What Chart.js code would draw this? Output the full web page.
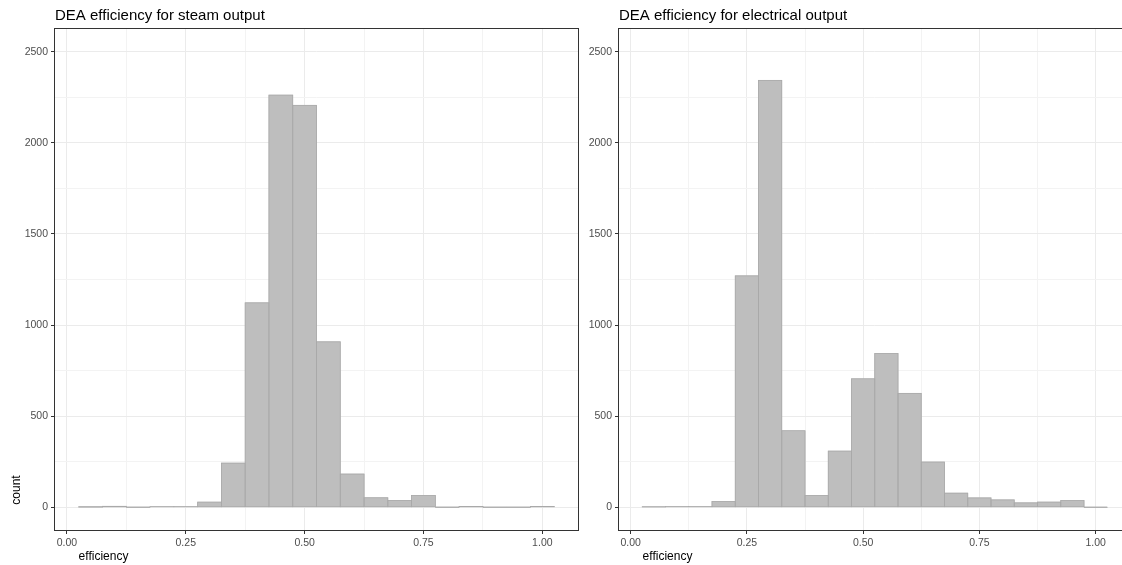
<!DOCTYPE html>
<html>
<head>
<meta charset="utf-8">
<script src="https://cdn.jsdelivr.net/npm/chart.js@4.4.1/dist/chart.umd.min.js"></script>
<style>
  html, body { margin: 0; padding: 0; background: #fff; overflow: hidden; width: 1122px; height: 565px; }
  canvas { position: absolute; top: 0; }
  #steamChart { left: 0; }
  #elecChart { left: 564px; }
</style>
</head>
<body>
<canvas id="steamChart" width="592" height="565"></canvas>
<canvas id="elecChart" width="580" height="565"></canvas>
<script>
// bin centres (binwidth 0.05)
const bins = [0.05, 0.10, 0.15, 0.20, 0.25, 0.30, 0.35, 0.40, 0.45, 0.50,
              0.55, 0.60, 0.65, 0.70, 0.75, 0.80, 0.85, 0.90, 0.95, 1.00];
const steamCounts = [1, 5, 0, 3, 3, 28, 242, 1122, 2262, 2206,
                     908, 182, 52, 37, 64, 0, 4, 0, 0, 4];
const elecCounts = [2, 3, 3, 31, 1270, 2343, 420, 64, 308, 705,
                    844, 625, 248, 77, 51, 40, 24, 28, 37, 0];

const xMajor = [0, 0.25, 0.5, 0.75, 1];
const xMinor = [0.125, 0.375, 0.625, 0.875];
const yMajor = [0, 500, 1000, 1500, 2000, 2500];
const yMinor = [250, 750, 1250, 1750, 2250];

const FONT = "'Liberation Sans', Arial, sans-serif";

// ggplot-like decorations: bar outlines, panel border, title, axis titles
const panelDecor = {
    id: 'panelDecor',
    afterDatasetsDraw(chart) {
        const ctx = chart.ctx;
        ctx.save();
        ctx.strokeStyle = '#a9a9a9';
        ctx.lineWidth = 0.8;
        chart.getDatasetMeta(0).data.forEach(bar => {
            const w = bar.width;
            ctx.strokeRect(bar.x - w / 2, bar.y, w, bar.base - bar.y);
        });
        ctx.restore();
    },
    afterDraw(chart, args, opts) {
        const ctx = chart.ctx;
        const a = chart.chartArea;
        ctx.save();
        ctx.strokeStyle = '#333333';
        ctx.lineWidth = 1;
        ctx.strokeRect(Math.round(a.left) - 0.5, Math.round(a.top) - 0.5,
                       Math.round(a.right - a.left) + 1, Math.round(a.bottom - a.top) + 1);

        ctx.fillStyle = '#000';
        ctx.font = '15px ' + FONT;
        ctx.textAlign = 'left';
        ctx.textBaseline = 'alphabetic';
        ctx.fillText(opts.title, a.left, 20);

        ctx.font = '12px ' + FONT;
        ctx.textAlign = 'center';
        ctx.textBaseline = 'middle';
        ctx.fillText('efficiency', a.left + 48.5, 556.5);

        if (opts.showCount) {
            ctx.translate(17, a.bottom - 40);
            ctx.rotate(-Math.PI / 2);
            ctx.fillText('count', 0, 0);
        }
        ctx.restore();
    }
};

function makeChart(id, counts, title, showCount, padRight) {
    return new Chart(document.getElementById(id), {
        type: 'bar',
        data: {
            datasets: [{
                data: bins.map((b, i) => ({ x: b, y: counts[i] })),
                backgroundColor: '#bebebe',
                borderWidth: 0,
                barPercentage: 1,
                categoryPercentage: 1
            }]
        },
        options: {
            responsive: false,
            animation: false,
            layout: { padding: { top: 29, right: padRight, left: 0, bottom: 0 } },
            plugins: {
                legend: { display: false },
                tooltip: { enabled: false },
                panelDecor: { title: title, showCount: showCount }
            },
            scales: {
                x: {
                    type: 'linear',
                    min: -0.025,
                    max: 1.075,
                    offset: false,
                    afterBuildTicks: s => {
                        s.ticks = xMajor.concat(xMinor).sort((p, q) => p - q).map(v => ({ value: v }));
                    },
                    afterFit: s => { s.height = 35; },
                    border: { display: false },
                    grid: {
                        offset: false,
                        color: c => xMajor.includes(c.tick.value) ? '#ebebeb' : '#f3f3f3',
                        lineWidth: 1,
                        tickLength: 4,
                        tickColor: c => xMajor.includes(c.tick.value) ? '#333333' : 'rgba(0,0,0,0)'
                    },
                    ticks: {
                        autoSkip: false,
                        maxRotation: 0,
                        padding: 3,
                        color: '#4d4d4d',
                        font: { family: FONT, size: 10.5 },
                        callback: v => xMajor.includes(v) ? v.toFixed(2) : ''
                    }
                },
                y: {
                    min: -125,
                    max: 2625,
                    afterBuildTicks: s => {
                        s.ticks = yMajor.concat(yMinor).sort((p, q) => p - q).map(v => ({ value: v }));
                    },
                    afterFit: s => { s.width = 55; },
                    border: { display: false },
                    grid: {
                        color: c => yMajor.includes(c.tick.value) ? '#ebebeb' : '#f3f3f3',
                        lineWidth: 1,
                        tickLength: 4,
                        tickColor: c => yMajor.includes(c.tick.value) ? '#333333' : 'rgba(0,0,0,0)'
                    },
                    ticks: {
                        autoSkip: false,
                        padding: 3,
                        color: '#4d4d4d',
                        font: { family: FONT, size: 10.5 },
                        callback: v => yMajor.includes(v) ? String(v) : ''
                    }
                }
            }
        },
        plugins: [panelDecor]
    });
}

makeChart('steamChart', steamCounts, 'DEA efficiency for steam output', true, 14);
makeChart('elecChart', elecCounts, 'DEA efficiency for electrical output', false, 13.5);
</script>
</body>
</html>
